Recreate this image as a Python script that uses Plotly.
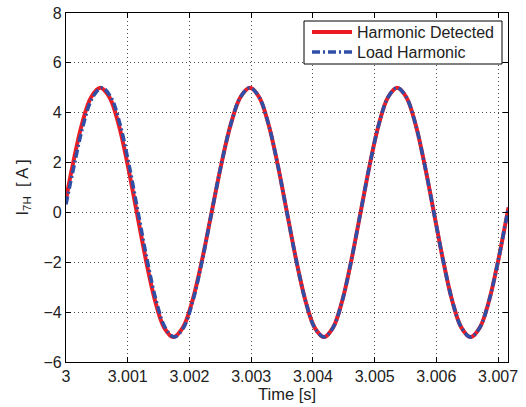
import plotly.graph_objects as go

# Detected 7th-harmonic current (A) sampled over time (s)
t_detected = [
    3.000000, 3.000109, 3.000258, 3.000407, 3.000556,
    3.000704, 3.000852, 3.000999, 3.001147,
    3.001295, 3.001443, 3.001590, 3.001738,
    3.001893, 3.002048, 3.002204, 3.002359,
    3.002514, 3.002670, 3.002825, 3.002980,
    3.003130, 3.003280, 3.003430, 3.003579,
    3.003729, 3.003879, 3.004028, 3.004178,
    3.004326, 3.004475, 3.004623, 3.004772,
    3.004920, 3.005068, 3.005217, 3.005365,
    3.005513, 3.005662, 3.005810, 3.005959,
    3.006108, 3.006256, 3.006405, 3.006553,
    3.006703, 3.006853, 3.007003, 3.007153, 3.007170,
]
i_detected = [
    0.52, 1.91, 3.54, 4.62, 5.00,
    4.62, 3.54, 1.91, 0.00,
    -1.91, -3.54, -4.62, -5.00,
    -4.62, -3.54, -1.91, 0.00,
    1.91, 3.54, 4.62, 5.00,
    4.62, 3.54, 1.91, 0.00,
    -1.91, -3.54, -4.62, -5.00,
    -4.62, -3.54, -1.91, 0.00,
    1.91, 3.54, 4.62, 5.00,
    4.62, 3.54, 1.91, 0.00,
    -1.91, -3.54, -4.62, -5.00,
    -4.62, -3.54, -1.91, 0.00, 0.20,
]

# Actual load 7th-harmonic current (A)
t_load = [
    3.000000, 3.000134, 3.000283, 3.000432, 3.000581,
    3.000728, 3.000875, 3.001021, 3.001168,
    3.001315, 3.001461, 3.001607, 3.001753,
    3.001905, 3.002056, 3.002208, 3.002359,
    3.002514, 3.002670, 3.002825, 3.002980,
    3.003130, 3.003280, 3.003430, 3.003579,
    3.003729, 3.003879, 3.004028, 3.004178,
    3.004326, 3.004475, 3.004623, 3.004772,
    3.004920, 3.005068, 3.005217, 3.005365,
    3.005513, 3.005662, 3.005810, 3.005959,
    3.006108, 3.006256, 3.006405, 3.006553,
    3.006703, 3.006853, 3.007003, 3.007153, 3.007170,
]
i_load = [
    0.32, 1.91, 3.54, 4.62, 5.00,
    4.62, 3.54, 1.91, 0.00,
    -1.91, -3.54, -4.62, -5.00,
    -4.62, -3.54, -1.91, 0.00,
    1.91, 3.54, 4.62, 5.00,
    4.62, 3.54, 1.91, 0.00,
    -1.91, -3.54, -4.62, -5.00,
    -4.62, -3.54, -1.91, 0.00,
    1.91, 3.54, 4.62, 5.00,
    4.62, 3.54, 1.91, 0.00,
    -1.91, -3.54, -4.62, -5.00,
    -4.62, -3.54, -1.91, 0.00, 0.20,
]

series_names = ["Harmonic Detected", "Load Harmonic"]

x_ticks = [3.000, 3.001, 3.002, 3.003, 3.004, 3.005, 3.006, 3.007]
x_tick_labels = ["3", "3.001", "3.002", "3.003", "3.004", "3.005", "3.006", "3.007"]
y_ticks = [-6, -4, -2, 0, 2, 4, 6, 8]
y_tick_labels = ["\u22126", "\u22124", "\u22122", "0", "2", "4", "6", "8"]

x_title = "Time [s]"
y_title = "I<sub>7H</sub>  [ A ]"

FONT = "Liberation Sans, Arial, sans-serif"
TEXT_COLOR = "#222"
RED = "#EC1C24"
BLUE = "#2F4FA6"
DASHDOT = "8px,3px,2px,3px"

# figure / plot-area geometry in pixels
W, H = 526, 407
ML, MR, MT, MB = 66, 18, 13, 45
PW, PH = W - ML - MR, H - MT - MB


def px_x(px):
    return (px - ML) / PW


def px_y(py):
    return 1 - (py - MT) / PH


fig = go.Figure()
fig.add_trace(go.Scatter(
    x=t_detected, y=i_detected, mode="lines", name=series_names[0],
    line=dict(color=RED, width=4.0, shape="spline", smoothing=1.0),
))
fig.add_trace(go.Scatter(
    x=t_load, y=i_load, mode="lines", name=series_names[1],
    line=dict(color=BLUE, width=3.5, shape="spline", smoothing=1.0, dash=DASHDOT),
))

axis_common = dict(
    showline=True, linecolor="black", linewidth=1.2, mirror="ticks",
    ticks="inside", ticklen=5, tickcolor="black", tickwidth=1,
    showgrid=True, gridcolor="rgba(0,0,0,0.7)", gridwidth=1, griddash="1px,3px",
    zeroline=False, automargin=False,
    tickfont=dict(family=FONT, size=16, color=TEXT_COLOR),
)

fig.update_xaxes(
    range=[3.0, 3.00716], tickmode="array", tickvals=x_ticks, ticktext=x_tick_labels,
    **axis_common,
)
fig.update_yaxes(
    range=[-6, 8], tickmode="array", tickvals=y_ticks, ticktext=y_tick_labels,
    **axis_common,
)

# Axis titles placed relative to the plot frame
fig.add_annotation(
    text=x_title, xref="paper", yref="paper", x=0.5, y=0,
    xanchor="center", yanchor="middle", yshift=-32, showarrow=False,
    font=dict(family=FONT, size=16.5, color=TEXT_COLOR),
)
fig.add_annotation(
    text=y_title, xref="paper", yref="paper", x=0, y=0.5,
    xanchor="center", yanchor="middle", xshift=-44, textangle=-90, showarrow=False,
    font=dict(family=FONT, size=16.5, color=TEXT_COLOR),
)

# Compact boxed legend in the upper-right corner
fig.add_shape(
    type="rect", xref="paper", yref="paper",
    x0=px_x(304), x1=px_x(502), y0=px_y(64), y1=px_y(21),
    line=dict(color="black", width=1), fillcolor="white", layer="above",
)
legend_styles = [dict(color=RED, width=4.0), dict(color=BLUE, width=3.5, dash=DASHDOT)]
for k, (name, style) in enumerate(zip(series_names, legend_styles)):
    row_y = 32 + 20 * k
    fig.add_shape(
        type="line", xref="paper", yref="paper",
        x0=px_x(312), x1=px_x(352), y0=px_y(row_y), y1=px_y(row_y),
        line=style, layer="above",
    )
    fig.add_annotation(
        text=name, xref="paper", yref="paper", x=px_x(355), y=px_y(row_y),
        xanchor="left", yanchor="middle", showarrow=False,
        font=dict(family=FONT, size=16, color=TEXT_COLOR),
    )

fig.update_layout(
    width=W, height=H,
    margin=dict(l=ML, r=MR, t=MT, b=MB),
    paper_bgcolor="white", plot_bgcolor="white",
    showlegend=False,
)

fig.write_html("out.html")
